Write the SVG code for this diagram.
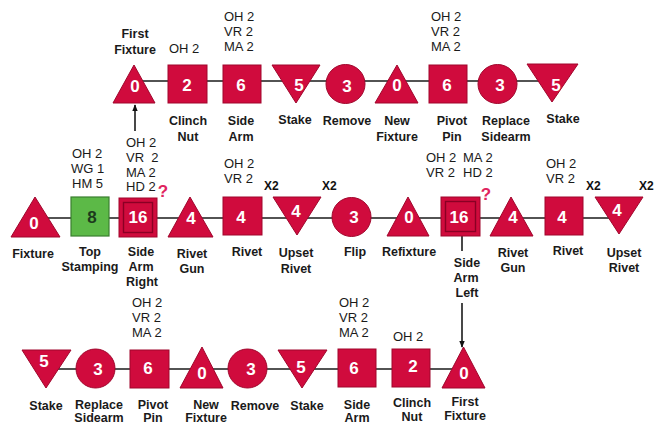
<svg xmlns="http://www.w3.org/2000/svg" width="654" height="426" viewBox="0 0 654 426">
<defs>
<marker id="ah" viewBox="0 0 10 10" refX="9" refY="5" markerWidth="7" markerHeight="7" orient="auto" markerUnits="userSpaceOnUse">
<path d="M0,1 L10,5 L0,9 z" fill="#111"/>
</marker>
<style>
.s{fill:#D00B3D;stroke:#A0062C;stroke-width:1}
.g{fill:#5CB947;stroke:#3A7F2F;stroke-width:1.2}
.in{fill:none;stroke:#8A0024;stroke-width:1.4}
.n{font-family:"Liberation Sans",Arial,sans-serif;font-weight:bold;font-size:17px;fill:#fff;text-anchor:middle}
.nd{fill:#1D3A1D}
.l{font-family:"Liberation Sans",Arial,sans-serif;font-weight:bold;font-size:12.5px;fill:#1a1a1a;text-anchor:middle}
.a{font-family:"Liberation Sans",Arial,sans-serif;font-size:13px;fill:#1a1a1a}
.x{font-family:"Liberation Sans",Arial,sans-serif;font-weight:bold;font-size:12px;fill:#111}
.q{font-family:"Liberation Sans",Arial,sans-serif;font-weight:bold;font-size:17px;fill:#E0245E;text-anchor:middle}
.c{stroke:#1a1a1a;stroke-width:1.6;fill:none}
</style>
</defs>
<rect width="654" height="426" fill="#fff"/>
<g id="connectors">
<line class="c" x1="134" y1="81" x2="552" y2="81"/>
<line class="c" x1="35" y1="218" x2="619" y2="218"/>
<line class="c" x1="46" y1="369" x2="463" y2="369"/>
<line class="c" x1="135" y1="131" x2="135" y2="105" marker-end="url(#ah)"/>
<line class="c" x1="462" y1="236" x2="462" y2="251"/>
<line class="c" x1="462" y1="303" x2="462" y2="347" marker-end="url(#ah)"/>
</g>
<!-- Top row -->
<g id="t-first-fixture">
<polygon class="s" points="134,65 113,103 155,103"/>
<text class="n" x="135" y="92">0</text>
<text class="l" x="135" y="38">First</text>
<text class="l" x="135" y="54">Fixture</text>
</g>
<g id="t-clinch-nut">
<rect class="s" x="168" y="65" width="39" height="38"/>
<text class="n" x="187" y="91">2</text>
<text class="a" x="169" y="53">OH 2</text>
<text class="l" x="188" y="125">Clinch</text>
<text class="l" x="188" y="141">Nut</text>
</g>
<g id="t-side-arm">
<rect class="s" x="223" y="65" width="38" height="38"/>
<text class="n" x="241" y="91">6</text>
<text class="a" x="224" y="21">OH 2</text>
<text class="a" x="224" y="36">VR 2</text>
<text class="a" x="224" y="51">MA 2</text>
<text class="l" x="241" y="125">Side</text>
<text class="l" x="241" y="141">Arm</text>
</g>
<g id="t-stake">
<polygon class="s" points="272,65 320,65 296,103"/>
<text class="n" x="299" y="91">5</text>
<text class="l" x="295" y="124">Stake</text>
</g>
<g id="t-remove">
<circle class="s" cx="345.5" cy="84" r="19.5"/>
<text class="n" x="347" y="92">3</text>
<text class="l" x="347" y="125">Remove</text>
</g>
<g id="t-new-fixture">
<polygon class="s" points="397,65 375,103 418,103"/>
<text class="n" x="397" y="91">0</text>
<text class="l" x="397" y="125">New</text>
<text class="l" x="397" y="141">Fixture</text>
</g>
<g id="t-pivot-pin">
<rect class="s" x="429" y="65" width="38" height="38"/>
<text class="n" x="447" y="91">6</text>
<text class="a" x="431" y="21">OH 2</text>
<text class="a" x="431" y="36">VR 2</text>
<text class="a" x="431" y="51">MA 2</text>
<text class="l" x="452" y="125">Pivot</text>
<text class="l" x="452" y="141">Pin</text>
</g>
<g id="t-replace-sidearm">
<circle class="s" cx="497.5" cy="84" r="19.5"/>
<text class="n" x="500" y="91">3</text>
<text class="l" x="506" y="125">Replace</text>
<text class="l" x="506" y="141">Sidearm</text>
</g>
<g id="t-stake2">
<polygon class="s" points="527,64 578,64 552,102"/>
<text class="n" x="556" y="91">5</text>
<text class="l" x="563" y="123">Stake</text>
</g>
<!-- Middle row -->
<g id="m-fixture">
<polygon class="s" points="35,197 11,237 60,237"/>
<text class="n" x="34" y="229">0</text>
<text class="l" x="33" y="258">Fixture</text>
</g>
<g id="m-top-stamping">
<rect class="g" x="71" y="197" width="38" height="39"/>
<text class="n nd" x="92" y="223">8</text>
<text class="a" x="72" y="158">OH 2</text>
<text class="a" x="71" y="173">WG 1</text>
<text class="a" x="72" y="188">HM 5</text>
<text class="l" x="90" y="256">Top</text>
<text class="l" x="90" y="271">Stamping</text>
</g>
<g id="m-side-arm-right">
<rect class="s" x="119" y="198" width="38" height="39"/>
<rect class="in" x="123.5" y="202.5" width="29" height="30"/>
<text class="n" x="138" y="223">16</text>
<text class="a" x="126" y="147">OH 2</text>
<text class="a" x="126" y="162" xml:space="preserve">VR  2</text>
<text class="a" x="126" y="177">MA 2</text>
<text class="a" x="126" y="191">HD 2</text>
<text class="q" x="163" y="197">?</text>
<text class="l" x="141" y="256">Side</text>
<text class="l" x="141" y="271">Arm</text>
<text class="l" x="142" y="286">Right</text>
</g>
<g id="m-rivet-gun">
<polygon class="s" points="190,197 168,237 213,237"/>
<text class="n" x="191" y="224">4</text>
<text class="l" x="192" y="258">Rivet</text>
<text class="l" x="192" y="273">Gun</text>
</g>
<g id="m-rivet">
<rect class="s" x="223" y="197" width="39" height="38"/>
<text class="n" x="241" y="223">4</text>
<text class="a" x="224" y="168">OH 2</text>
<text class="a" x="224" y="183">VR 2</text>
<text class="l" x="247" y="256">Rivet</text>
</g>
<g id="m-upset-rivet">
<polygon class="s" points="273,197 321,197 297,235"/>
<text class="n" x="296" y="217">4</text>
<text class="x" x="264" y="190">X2</text>
<text class="x" x="322" y="190">X2</text>
<text class="l" x="296" y="257">Upset</text>
<text class="l" x="296" y="273">Rivet</text>
</g>
<g id="m-flip">
<circle class="s" cx="351.5" cy="217" r="19.5"/>
<text class="n" x="354" y="223">3</text>
<text class="l" x="355" y="256">Flip</text>
</g>
<g id="m-refixture">
<polygon class="s" points="408,197 387,236 429,236"/>
<text class="n" x="409" y="223">0</text>
<text class="l" x="409" y="256">Refixture</text>
</g>
<g id="m-side-arm-left">
<rect class="s" x="441" y="197" width="39" height="39"/>
<rect class="in" x="445.5" y="201.5" width="30" height="30"/>
<text class="n" x="459" y="223">16</text>
<text class="a" x="426" y="162">OH 2</text>
<text class="a" x="426" y="177">VR 2</text>
<text class="a" x="463" y="162">MA 2</text>
<text class="a" x="463" y="177">HD 2</text>
<text class="q" x="486" y="200">?</text>
<text class="l" x="467" y="267">Side</text>
<text class="l" x="466" y="282">Arm</text>
<text class="l" x="467" y="297">Left</text>
</g>
<g id="m-rivet-gun2">
<polygon class="s" points="511,197 490,236 533,236"/>
<text class="n" x="513" y="223">4</text>
<text class="l" x="513" y="257">Rivet</text>
<text class="l" x="513" y="272">Gun</text>
</g>
<g id="m-rivet2">
<rect class="s" x="545" y="197" width="38" height="38"/>
<text class="n" x="562" y="223">4</text>
<text class="a" x="546" y="168">OH 2</text>
<text class="a" x="546" y="183">VR 2</text>
<text class="l" x="568" y="255">Rivet</text>
</g>
<g id="m-upset-rivet2">
<polygon class="s" points="595,197 643,197 619,234"/>
<text class="n" x="617" y="216">4</text>
<text class="x" x="586" y="190">X2</text>
<text class="x" x="639" y="190">X2</text>
<text class="l" x="624" y="257">Upset</text>
<text class="l" x="624" y="272">Rivet</text>
</g>
<!-- Bottom row -->
<g id="b-stake">
<polygon class="s" points="22,350 71,350 46,388"/>
<text class="n" x="44" y="367">5</text>
<text class="l" x="46" y="410">Stake</text>
</g>
<g id="b-replace-sidearm">
<circle class="s" cx="95.5" cy="368.5" r="19.5"/>
<text class="n" x="98" y="375">3</text>
<text class="l" x="99" y="409">Replace</text>
<text class="l" x="99" y="422">Sidearm</text>
</g>
<g id="b-pivot-pin">
<rect class="s" x="130" y="350" width="39" height="38"/>
<text class="n" x="148" y="374">6</text>
<text class="a" x="132" y="307">OH 2</text>
<text class="a" x="132" y="322">VR 2</text>
<text class="a" x="132" y="337">MA 2</text>
<text class="l" x="153" y="409">Pivot</text>
<text class="l" x="153" y="422">Pin</text>
</g>
<g id="b-new-fixture">
<polygon class="s" points="202,347 180,388 223,388"/>
<text class="n" x="202" y="379">0</text>
<text class="l" x="206" y="409">New</text>
<text class="l" x="206" y="422">Fixture</text>
</g>
<g id="b-remove">
<circle class="s" cx="247.5" cy="368.5" r="19.5"/>
<text class="n" x="251" y="375">3</text>
<text class="l" x="255" y="410">Remove</text>
</g>
<g id="b-stake2">
<polygon class="s" points="278,350 327,350 302,388"/>
<text class="n" x="301" y="373">5</text>
<text class="l" x="307" y="410">Stake</text>
</g>
<g id="b-side-arm">
<rect class="s" x="338" y="349" width="38" height="38"/>
<text class="n" x="354" y="374">6</text>
<text class="a" x="339" y="307">OH 2</text>
<text class="a" x="339" y="322">VR 2</text>
<text class="a" x="339" y="337">MA 2</text>
<text class="l" x="357" y="409">Side</text>
<text class="l" x="357" y="422">Arm</text>
</g>
<g id="b-clinch-nut">
<rect class="s" x="392" y="349" width="38" height="38"/>
<text class="n" x="413" y="372">2</text>
<text class="a" x="393" y="341">OH 2</text>
<text class="l" x="412" y="407">Clinch</text>
<text class="l" x="412" y="421">Nut</text>
</g>
<g id="b-first-fixture">
<polygon class="s" points="463.5,347 442,388 485,388"/>
<text class="n" x="464" y="379">0</text>
<text class="l" x="465" y="406">First</text>
<text class="l" x="465" y="420">Fixture</text>
</g>
</svg>
